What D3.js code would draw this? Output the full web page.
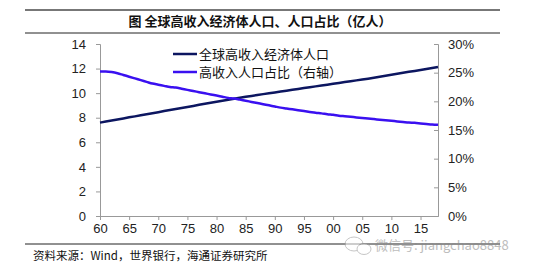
<!DOCTYPE html>
<html>
<head>
<meta charset="utf-8">
<script src="https://cdn.jsdelivr.net/npm/d3@7"></script>
<style>
  body { margin: 0; background: #fff; }
  svg { display: block; }
</style>
</head>
<body>
<script>
// data (1960-2018)
var years = d3.range(1960, 2019);
var population = [7.60, 7.69, 7.77, 7.86, 7.94, 8.03, 8.11, 8.20, 8.28, 8.37,
  8.45, 8.54, 8.62, 8.71, 8.79, 8.88, 8.96, 9.05, 9.13, 9.22,
  9.30, 9.38, 9.46, 9.54, 9.62, 9.70, 9.77, 9.85, 9.92, 9.99,
  10.06, 10.13, 10.20, 10.27, 10.34, 10.41, 10.48, 10.55, 10.62, 10.69,
  10.76, 10.83, 10.90, 10.97, 11.04, 11.11, 11.18, 11.26, 11.34, 11.42,
  11.50, 11.58, 11.66, 11.74, 11.81, 11.88, 11.96, 12.04, 12.12];
var share = [25.2, 25.2, 25.1, 24.9, 24.6, 24.3, 24.0, 23.7, 23.4, 23.1,
  22.9, 22.7, 22.5, 22.4, 22.2, 22.0, 21.8, 21.6, 21.4, 21.2,
  21.0, 20.8, 20.6, 20.5, 20.3, 20.1, 19.9, 19.7, 19.5, 19.3,
  19.1, 18.9, 18.75, 18.6, 18.45, 18.3, 18.15, 18.0, 17.9, 17.75,
  17.65, 17.5, 17.4, 17.3, 17.2, 17.1, 17.0, 16.9, 16.8, 16.7,
  16.6, 16.5, 16.4, 16.3, 16.25, 16.15, 16.05, 15.95, 15.9];
var xTicks = [1960, 1965, 1970, 1975, 1980, 1985, 1990, 1995, 2000, 2005, 2010, 2015];
var leftTicks = [0, 2, 4, 6, 8, 10, 12, 14];
var rightTicks = [0, 5, 10, 15, 20, 25, 30];
var seriesNames = ["全球高收入经济体人口", "高收入人口占比（右轴）"];
var colors = ["#0c1660", "#3a10f0"];

var W = 550, H = 273;
var cn = "'Noto Sans CJK SC', sans-serif";
var num = "'Liberation Sans', Arial, sans-serif";

var svg = d3.select("body").append("svg").attr("width", W).attr("height", H);

// frame lines + title
svg.append("line").attr("x1", 25).attr("x2", 500).attr("y1", 10).attr("y2", 10)
  .attr("stroke", "#777").attr("stroke-width", 2);
svg.append("line").attr("x1", 25).attr("x2", 500).attr("y1", 33).attr("y2", 33)
  .attr("stroke", "#222").attr("stroke-width", 1);
svg.append("text").attr("x", 260).attr("y", 26).attr("text-anchor", "middle")
  .style("font-family", cn).style("font-size", "13px").style("font-weight", "bold")
  .attr("fill", "#111").text("图  全球高收入经济体人口、人口占比（亿人）");

var x = d3.scaleLinear().domain([1960, 2018]).range([100, 438]);
var yL = d3.scaleLinear().domain([0, 14]).range([216, 44]);
var yR = d3.scaleLinear().domain([0, 30]).range([216, 44]);

function styleAxis(g) {
  g.select(".domain").attr("stroke", "#999");
  g.selectAll(".tick line").attr("stroke", "#999");
  g.selectAll(".tick text").attr("fill", "#222")
    .style("font-family", num).style("font-size", "13px");
}

svg.append("g").attr("transform", "translate(100,0)")
  .call(d3.axisLeft(yL).tickValues(leftTicks).tickSize(4).tickSizeOuter(4).tickPadding(10))
  .call(styleAxis);

svg.append("g").attr("transform", "translate(438,0)")
  .call(d3.axisRight(yR).tickValues(rightTicks).tickSize(-4).tickSizeOuter(-4).tickPadding(10)
    .tickFormat(function(d) { return d + "%"; }))
  .call(styleAxis);

svg.append("g").attr("transform", "translate(0,216)")
  .call(d3.axisBottom(x).tickValues(xTicks).tickSize(4).tickSizeOuter(0).tickPadding(4)
    .tickFormat(function(d) { return d3.format("02")(d % 100); }))
  .call(styleAxis);

// lines
var popLine = d3.line().x(function(d, i) { return x(years[i]); }).y(function(d) { return yL(d); });
var shareLine = d3.line().curve(d3.curveMonotoneX)
  .x(function(d, i) { return x(years[i]); }).y(function(d) { return yR(d); });

svg.append("path").datum(population).attr("d", popLine)
  .attr("fill", "none").attr("stroke", colors[0]).attr("stroke-width", 2.5);
svg.append("path").datum(share).attr("d", shareLine)
  .attr("fill", "none").attr("stroke", colors[1]).attr("stroke-width", 2.5);

// legend
var leg = svg.append("g");
seriesNames.forEach(function(name, i) {
  var yy = 54 + i * 18;
  leg.append("line").attr("x1", 173).attr("x2", 197).attr("y1", yy).attr("y2", yy)
    .attr("stroke", colors[i]).attr("stroke-width", 2.5);
  leg.append("text").attr("x", 199).attr("y", yy + 5)
    .style("font-family", cn).style("font-size", "13px").attr("fill", "#111").text(name);
});

// footer
svg.append("line").attr("x1", 25).attr("x2", 500).attr("y1", 244).attr("y2", 244)
  .attr("stroke", "#222").attr("stroke-width", 1);
svg.append("text").attr("x", 33).attr("y", 260)
  .style("font-family", cn).style("font-size", "11.5px").attr("fill", "#111")
  .text("资料来源：Wind，世界银行，海通证券研究所");

// watermark
var wm = svg.append("g").attr("opacity", 0.55);
wm.append("ellipse").attr("cx", 354).attr("cy", 244).attr("rx", 9).attr("ry", 7)
  .attr("fill", "#fff").attr("stroke", "#999");
wm.append("ellipse").attr("cx", 364).attr("cy", 249).attr("rx", 7).attr("ry", 5.5)
  .attr("fill", "#fff").attr("stroke", "#999");
wm.append("text").attr("x", 375).attr("y", 250)
  .style("font-family", cn).style("font-size", "13px").attr("fill", "#888")
  .text("微信号: jiangchao8848");
</script>
</body>
</html>
